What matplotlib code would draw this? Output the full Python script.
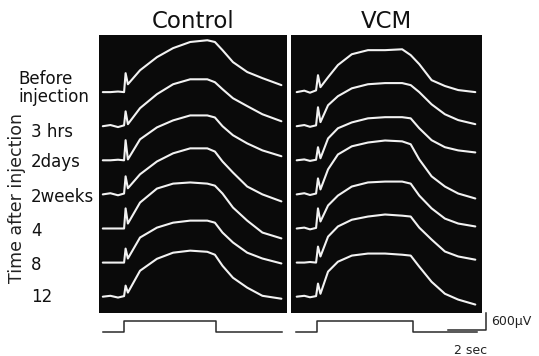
import numpy as np
import matplotlib.pyplot as plt

W, H = 539, 356

# sample times (s) of the traced key points, one list per panel
ctrl_t = [0.2, 0.6, 1.0, 1.32, 1.40, 1.52, 2.16, 3.05, 3.9, 4.8, 5.7, 6.1, 6.5, 7.05, 7.8, 8.6, 9.6]
vcm_t = [0.3, 0.7, 1.0, 1.32, 1.42, 1.55, 1.95, 2.47, 3.2, 4.05, 4.95, 5.85, 6.3, 6.75, 7.4, 8.1, 8.8, 9.7]

# potentials (uV) relative to each trace's baseline
ctrl_before = [0, 0, 20, 0, 650, 270, 750, 1200, 1510, 1720, 1780, 1720, 1440, 1030, 690, 480, 240]
ctrl_3hrs = [0, 40, -30, 30, 510, 70, 620, 1100, 1440, 1610, 1610, 1510, 1270, 960, 690, 410, 170]
ctrl_2days = [0, 0, 20, 0, 690, 30, 720, 1130, 1370, 1540, 1540, 1470, 1170, 860, 580, 340, 140]
ctrl_2weeks = [0, 40, -30, 30, 620, 210, 690, 1130, 1410, 1580, 1580, 1470, 1130, 750, 270, 0, -240]
ctrl_4 = [0, 0, 0, 0, 690, 170, 890, 1370, 1540, 1580, 1540, 1470, 1200, 720, 270, -140, -340]
ctrl_8 = [0, 0, 0, 0, 480, 140, 860, 1200, 1370, 1440, 1440, 1370, 1030, 690, 340, 140, -30]
ctrl_12 = [0, 30, -30, 20, 380, 140, 890, 1300, 1510, 1580, 1540, 1440, 1060, 650, 310, 30, -70]

vcm_before = [0, 50, -20, 60, 580, 170, 510, 930, 1300, 1440, 1440, 1470, 1270, 960, 410, 210, 70, 0]
vcm_3hrs = [0, 40, -20, 30, 650, 140, 720, 1030, 1300, 1440, 1480, 1480, 1410, 1170, 750, 410, 210, 70]
vcm_2days = [0, 30, -20, 20, 450, 70, 750, 1100, 1300, 1440, 1480, 1480, 1440, 1100, 690, 450, 340, 270]
vcm_2weeks = [0, 40, -20, 30, 550, 170, 860, 1370, 1650, 1780, 1850, 1820, 1720, 1200, 620, 270, 30, -140]
vcm_4 = [0, 30, -30, 20, 690, 240, 790, 1130, 1440, 1580, 1610, 1610, 1540, 1130, 690, 340, 170, 70]
vcm_8 = [0, 0, 20, 0, 550, 210, 890, 1240, 1470, 1580, 1650, 1610, 1580, 1200, 790, 380, 210, 100]
vcm_12 = [0, 30, -20, 20, 450, 100, 860, 1200, 1410, 1480, 1480, 1440, 1410, 1030, 510, 100, -100, -270]

# stimulus marker: start, on, off, end (s)
ctrl_stim_t = [0.2, 1.32, 6.16, 9.63]
vcm_stim_t = [0.26, 1.37, 6.42, 9.8]
stim_level = [0, 1, 0, 0]

scale_sec = 2
scale_uv = 600

row_labels = ["Before\ninjection", "3 hrs", "2days", "2weeks", "4", "8", "12"]
label_y = [88, 132, 162, 197, 231, 265, 297]

px_per_s = 19.0
row_step = 1170  # uV between rows

fig = plt.figure(figsize=(W / 100, H / 100), dpi=100)


def box(x0, y0, x1, y1):
    return [x0 / W, 1 - y1 / H, (x1 - x0) / W, (y1 - y0) / H]


def bare(ax):
    ax.set_xticks([])
    ax.set_yticks([])
    for s in ax.spines.values():
        s.set_visible(False)


panels = [
    ("Control", ctrl_t, [ctrl_before, ctrl_3hrs, ctrl_2days, ctrl_2weeks, ctrl_4, ctrl_8, ctrl_12], ctrl_stim_t, 99, 287),
    ("VCM", vcm_t, [vcm_before, vcm_3hrs, vcm_2days, vcm_2weeks, vcm_4, vcm_8, vcm_12], vcm_stim_t, 291, 482),
]

for title, t, traces, st, x0, x1 in panels:
    ax = fig.add_axes(box(x0, 35, x1, 313))
    ax.set_facecolor('#0a0a0a')
    for i, v in enumerate(traces):
        ax.plot(t, np.array(v) - i * row_step, color='#f2f2f2', lw=1.5,
                solid_joinstyle='round', solid_capstyle='round')
    ax.set_xlim(0, (x1 - x0) / px_per_s)
    ax.set_ylim(-7580, 1960)
    bare(ax)
    fig.text((x0 + x1) / 2 / W, 1 - 22 / H, title, ha='center', va='center', fontsize=16.5,
             color='#111111')

    # stimulus marker below the panel
    sax = fig.add_axes(box(x0, 313, x1, 340))
    sax.plot(st, stim_level, drawstyle='steps-post', color='#2a2a2a', lw=1.1)
    sax.set_xlim(0, (x1 - x0) / px_per_s)
    sax.set_ylim(-0.727, 1.727)
    sax.patch.set_alpha(0)
    bare(sax)

# calibration bars
cax = fig.add_axes(box(446, 310, 490, 334))
cax.plot([44 / px_per_s - 0.21 - scale_sec, 44 / px_per_s - 0.21, 44 / px_per_s - 0.21],
         [0, 0, scale_uv], color='#2a2a2a', lw=1.1)
cax.set_xlim(0, 44 / px_per_s)
cax.set_ylim(-137, 686)
cax.patch.set_alpha(0)
bare(cax)
fig.text(491 / W, 1 - 322 / H, "600μV", ha='left', va='center', fontsize=9, color='#222222')
fig.text(471 / W, 1 - 351 / H, "2 sec", ha='center', va='center', fontsize=9, color='#222222')

# row labels
for lab, y in zip(row_labels, label_y):
    x = 18 if lab.startswith("Before") else 31
    fig.text(x / W, 1 - y / H, lab, ha='left', va='center', fontsize=12,
             linespacing=0.95, color='#111111')
fig.text(17 / W, 1 - 198 / H, "Time after injection", rotation=90, ha='center', va='center',
         fontsize=12.5, color='#222222')

fig.savefig("out.png", dpi=100, facecolor='white')
